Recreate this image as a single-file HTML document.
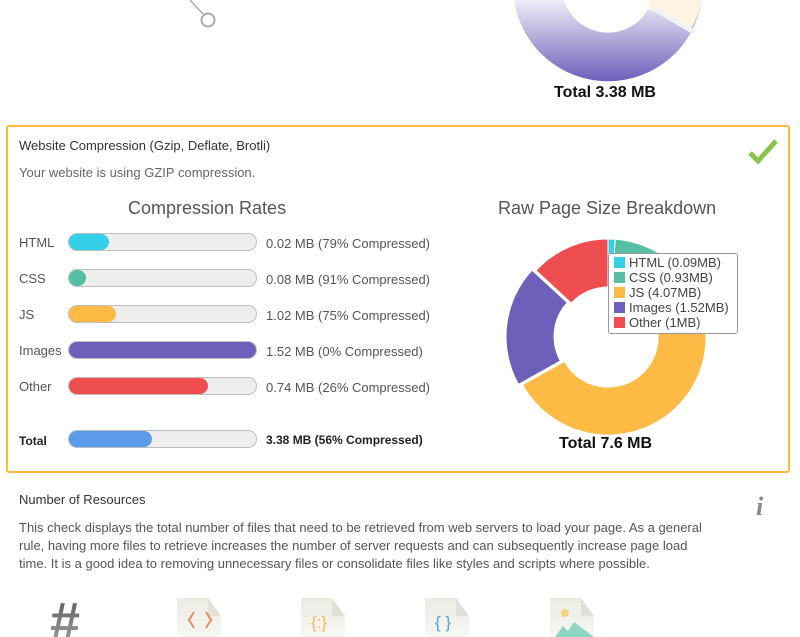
<!DOCTYPE html>
<html><head><meta charset="utf-8"><style>
body{margin:0;width:800px;height:637px;overflow:hidden;background:#fff;font-family:"Liberation Sans","DejaVu Sans",sans-serif;position:relative}
.a{position:absolute;white-space:nowrap}
.bar{position:absolute;left:68px;width:187px;height:16px;border-radius:9px;background:#eeeeee;border:1px solid #bdbdbd;box-sizing:content-box}
.bar i{display:block;height:16px;border-radius:9px}
.lbl{position:absolute;left:19px;font-size:13px;color:#555}
.val{position:absolute;left:266px;font-size:13px;color:#555}
</style></head><body>
<svg class="a" style="left:0;top:0" width="800" height="637">
<defs><linearGradient id="pg" x1="0" y1="0" x2="0" y2="1"><stop offset="0" stop-color="#efedf7"/><stop offset="1" stop-color="#6e5fbb"/></linearGradient>
<linearGradient id="dg" x1="0" y1="0" x2="0" y2="1"><stop offset="0" stop-color="#ecebe4"/><stop offset="1" stop-color="#f7f7f3"/></linearGradient>
<linearGradient id="hg" x1="0" y1="0" x2="0" y2="1"><stop offset="0" stop-color="#555"/><stop offset="1" stop-color="#aaa"/></linearGradient></defs>
<line x1="190" y1="0" x2="203" y2="14" stroke="#aaa" stroke-width="1.5"/>
<circle cx="208" cy="20" r="6.5" fill="#fff" stroke="#aaa" stroke-width="2"/>
<path d="M514,0 A95,95 0 0 0 702,0 L652,0 A46,46 0 0 1 564,0 Z" fill="url(#pg)"/>
<path d="M648,0 L702,0 A95,95 0 0 1 691,28 L649,10 Z" fill="#fff4e2"/>
<line x1="651" y1="7" x2="694" y2="32" stroke="#f2f2f2" stroke-width="5"/>
<g id="donut"></g>
<g fill="url(#dg)"><path d="M177,598 H208 L221,616 V637 H177Z"/><path d="M301,598 H332 L345,616 V637 H301Z"/><path d="M425,598 H456 L469,616 V637 H425Z"/><path d="M550,598 H581 L594,616 V637 H550Z"/></g>
<g fill="#e2e1d8"><path d="M208,598 L221,616 H208Z"/><path d="M332,598 L345,616 H332Z"/><path d="M456,598 L469,616 H456Z"/><path d="M581,598 L594,616 H581Z"/></g>
<path d="M194,612 L189,620 L194,628 M206,612 L211,620 L206,628" stroke="#f08a60" stroke-width="2" fill="none"/>
<text x="311" y="628" font-size="17" fill="#f6b960">{:}</text>
<text x="435" y="628" font-size="17" fill="#4aa3e6">{ }</text>
<circle cx="565" cy="613" r="4" fill="#f5d47a"/><path d="M555,637 L563,626 L568,631 L574,622 L594,637Z" fill="#8dd6c4"/>
<text x="50" y="640" font-size="54" font-weight="bold" fill="url(#hg)">#</text>
</svg>
<div class="a" style="left:554px;top:84px;font-size:16px;font-weight:bold;color:#111">Total 3.38 MB</div>
<div class="a" style="left:6px;top:125px;width:780px;height:344px;border:2px solid #fbb93f;border-radius:3px"></div>
<div class="a" style="left:19px;top:138px;font-size:13px;color:#333">Website Compression (Gzip, Deflate, Brotli)</div>
<div class="a" style="left:19px;top:165px;font-size:13px;color:#666">Your website is using GZIP compression.</div>
<svg class="a" style="left:748px;top:139px" width="30" height="26"><path d="M2,14 L10,22 L28,2" stroke="#8bc34a" stroke-width="5" fill="none"/></svg>
<div class="a" style="left:128px;top:198px;font-size:18px;color:#555">Compression Rates</div>
<div class="a" style="left:498px;top:198px;font-size:18px;color:#555">Raw Page Size Breakdown</div>

<div class="lbl" style="top:235px">HTML</div><div class="bar" style="top:233px"><i style="width:40px;background:#34d0ea"></i></div><div class="val" style="top:236px">0.02 MB (79% Compressed)</div>
<div class="lbl" style="top:271px">CSS</div><div class="bar" style="top:269px"><i style="width:17px;background:#55bea3"></i></div><div class="val" style="top:272px">0.08 MB (91% Compressed)</div>
<div class="lbl" style="top:307px">JS</div><div class="bar" style="top:305px"><i style="width:47px;background:#fdbb46"></i></div><div class="val" style="top:308px">1.02 MB (75% Compressed)</div>
<div class="lbl" style="top:343px">Images</div><div class="bar" style="top:341px"><i style="width:187px;background:#6e5fbb"></i></div><div class="val" style="top:344px">1.52 MB (0% Compressed)</div>
<div class="lbl" style="top:379px">Other</div><div class="bar" style="top:377px"><i style="width:139px;background:#ef4e51"></i></div><div class="val" style="top:380px">0.74 MB (26% Compressed)</div>
<div class="lbl" style="top:434px;font-size:12px;font-weight:bold;color:#222">Total</div><div class="bar" style="top:430px"><i style="width:83px;background:#5b9bea"></i></div><div class="val" style="top:433px;font-size:12px;font-weight:bold;color:#222">3.38 MB (56% Compressed)</div>

<div class="a" style="left:608px;top:253px;width:128px;height:78px;background:#fff;border:1px solid #999;border-radius:3px;font-size:13px;color:#444;line-height:15px;padding-top:1px">
<div style="padding-left:5px"><b style="display:inline-block;width:11px;height:11px;background:#34d0ea;margin-right:4px;vertical-align:-1px"></b>HTML (0.09MB)</div>
<div style="padding-left:5px"><b style="display:inline-block;width:11px;height:11px;background:#55bea3;margin-right:4px;vertical-align:-1px"></b>CSS (0.93MB)</div>
<div style="padding-left:5px"><b style="display:inline-block;width:11px;height:11px;background:#fdbb46;margin-right:4px;vertical-align:-1px"></b>JS (4.07MB)</div>
<div style="padding-left:5px"><b style="display:inline-block;width:11px;height:11px;background:#6e5fbb;margin-right:4px;vertical-align:-1px"></b>Images (1.52MB)</div>
<div style="padding-left:5px"><b style="display:inline-block;width:11px;height:11px;background:#ef4e51;margin-right:4px;vertical-align:-1px"></b>Other (1MB)</div>
</div>
<div class="a" style="left:559px;top:435px;font-size:16px;font-weight:bold;color:#111">Total 7.6 MB</div>

<div class="a" style="left:19px;top:492px;font-size:13px;color:#333">Number of Resources</div>
<div class="a" style="left:756px;top:492px;font-size:26px;font-style:italic;font-weight:bold;color:#888;font-family:'Liberation Serif',serif">i</div>
<div class="a" style="left:19px;top:519px;font-size:13px;line-height:18px;color:#555">This check displays the total number of files that need to be retrieved from web servers to load your page. As a general<br>rule, having more files to retrieve increases the number of server requests and can subsequently increase page load<br>time. It is a good idea to removing unnecessary files or consolidate files like styles and scripts where possible.</div>
<script>
var cx=608,cy=337,R=98,r=50,data=[[0.09,"#34d0ea"],[0.93,"#55bea3"],[4.07,"#fdbb46"],[1.52,"#6e5fbb"],[1.0,"#ef4e51"]],tot=7.61,a=-Math.PI/2,s="";
data.forEach(function(d,i){var b=a+d[0]/tot*2*Math.PI;var ox=0,oy=0;if(i==3){var m=(a+b)/2;ox=Math.cos(m)*4;oy=Math.sin(m)*4;}
function p(rr,t){return (cx+ox+rr*Math.cos(t)).toFixed(1)+","+(cy+oy+rr*Math.sin(t)).toFixed(1)}
var l=(b-a)>Math.PI?1:0;
s+='<path d="M'+p(R,a)+' A'+R+','+R+' 0 '+l+' 1 '+p(R,b)+' L'+p(r,b)+' A'+r+','+r+' 0 '+l+' 0 '+p(r,a)+'Z" fill="'+d[1]+'" stroke="#fff" stroke-width="1"/>';a=b;});
document.getElementById("donut").innerHTML=s;
</script>
</body></html>
